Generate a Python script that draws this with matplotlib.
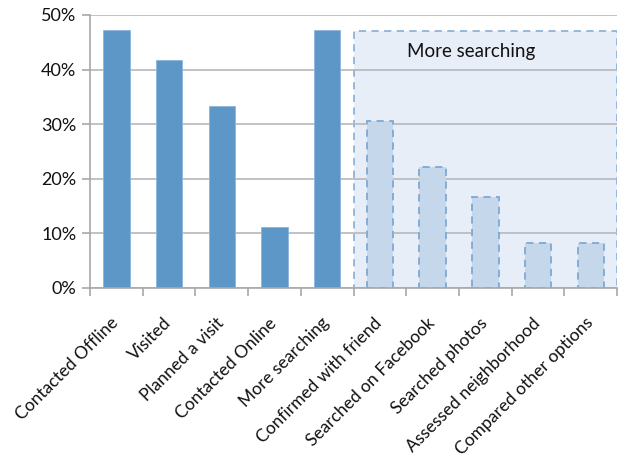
import matplotlib
matplotlib.use("Agg")
import matplotlib.pyplot as plt
import matplotlib.transforms as mtransforms
from matplotlib.patches import Rectangle
from matplotlib.ticker import PercentFormatter, FixedLocator

categories = ["Contacted Offline", "Visited", "Planned a visit", "Contacted Online",
              "More searching", "Confirmed with friend", "Searched on Facebook",
              "Searched photos", "Assessed neighborhood", "Compared other options"]
values = [0.472, 0.417, 0.333, 0.111, 0.472, 0.306, 0.222, 0.167, 0.083, 0.083]
detail_start = 5  # index of first "More searching" sub-category
box_label = "More searching"
box_height = 0.47

plt.rcParams['font.family'] = ['Lato', 'DejaVu Sans']

fig = plt.figure(figsize=(6.21, 4.66), dpi=100)
ax = fig.add_axes([0.145, 0.382, 0.8487, 0.586])

x = list(range(len(categories)))
dark = "#5d97c8"
light_fill = "#c4d7eb"
light_edge = "#7ea9d4"

ax.bar(x[:detail_start], values[:detail_start], width=0.5, color=dark,
       edgecolor="#8db5dc", linewidth=0.6, zorder=2)
ax.bar(x[detail_start:], values[detail_start:], width=0.5, color=light_fill,
       edgecolor=light_edge, linewidth=1.3, linestyle=(0, (4, 3)), zorder=2)

box = Rectangle((detail_start - 0.5, 0), len(categories) - detail_start, box_height,
                facecolor="#e7eef8", edgecolor="#8db3da", linewidth=1.3,
                linestyle=(0, (4, 3)), zorder=0.3)
ax.add_patch(box)
ax.text(detail_start - 0.5 + (len(categories) - detail_start) * 0.446, 0.433, box_label,
        ha="center", va="center", fontsize=13.5, color="#111111", zorder=3)

ax.set_xlim(-0.5, len(categories) - 0.5)
ax.set_ylim(0, 0.5)
ax.yaxis.set_major_locator(FixedLocator([0, 0.1, 0.2, 0.3, 0.4, 0.5]))
ax.yaxis.set_major_formatter(PercentFormatter(1.0, decimals=0))
ax.set_axisbelow(True)
ax.grid(axis="y", color="#b5b8bd", linewidth=1.2, zorder=0.5)
ax.set_facecolor("white")

for s in ["top", "right"]:
    ax.spines[s].set_visible(False)
for s in ["left", "bottom"]:
    ax.spines[s].set_color("#a8a8a8")
    ax.spines[s].set_linewidth(1.2)

ax.set_xticks([i - 0.5 for i in range(len(categories) + 1)], minor=True)
ax.set_xticks(x)
ax.tick_params(axis="x", which="major", length=0)
ax.tick_params(axis="x", which="minor", length=6, color="#a8a8a8", width=1.2)
ax.tick_params(axis="y", length=6, color="#a8a8a8", width=1.2, labelsize=13,
               labelcolor="#111111", pad=4)
ax.set_xticklabels(categories, rotation=45, ha="right", va="top",
                   rotation_mode="anchor", fontsize=12.5, color="#111111")
for lbl in ax.get_xticklabels():
    lbl.set_transform(lbl.get_transform() + mtransforms.ScaledTranslation(-6/100, -22/100, fig.dpi_scale_trans))

fig.savefig("out.png", dpi=100)
